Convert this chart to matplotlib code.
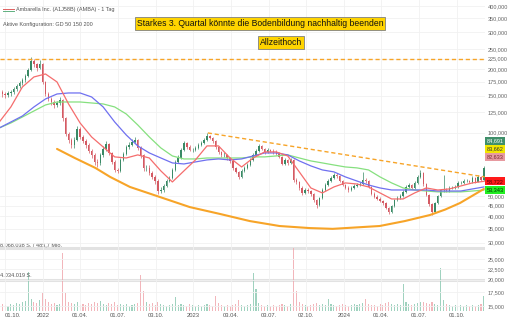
import matplotlib
matplotlib.use("Agg")
import matplotlib.pyplot as plt
import matplotlib.dates as mdates
from matplotlib.lines import Line2D
from matplotlib.ticker import NullLocator
import numpy as np
import pandas as pd

plt.rcParams['font.family'] = ['Liberation Sans', 'DejaVu Sans']

# ---------------- data (weekly candles) ----------------
start_date = '2021-09-17'
first_open = 158.0
close = [156.1, 152.7, 151.1, 154.4, 156.1, 161.4, 166.7, 172.2, 178.0, 186.0,
         198.6, 219.2, 212.2, 203.0, 212.1, 174.2, 152.7, 144.6, 139.9, 135.4,
         138.4, 143.0, 117.4, 98.6, 92.3, 87.4, 92.3, 104.1, 95.4, 91.3,
         87.4, 81.9, 78.4, 72.6, 71.8, 78.4, 83.7, 88.4, 80.1, 72.6,
         66.5, 65.8, 74.2, 79.3, 85.5, 87.4, 90.3, 92.3, 84.6, 78.4,
         68.0, 68.0, 64.4, 61.6, 58.9, 52.8, 53.4, 55.8, 58.9, 60.9,
         66.5, 72.6, 75.8, 82.8, 89.3, 85.5, 82.8, 82.8, 84.6, 87.4,
         89.3, 92.3, 96.5, 94.4, 91.3, 85.5, 81.0, 78.4, 78.4, 75.8,
         73.4, 68.0, 65.1, 61.6, 65.8, 68.0, 70.2, 74.2, 78.4, 81.9,
         86.5, 83.7, 81.0, 82.8, 81.9, 81.0, 79.3, 76.7, 71.0, 74.2,
         71.8, 74.2, 59.6, 58.3, 54.6, 51.7, 53.4, 52.8, 51.1, 47.9,
         45.3, 48.9, 53.4, 56.4, 58.9, 60.9, 63.0, 62.3, 58.9, 56.4,
         54.6, 53.4, 54.6, 55.8, 56.4, 57.0, 59.6, 58.9, 55.2, 51.1,
         49.5, 48.4, 47.4, 46.3, 43.9, 42.0, 44.8, 47.9, 48.9, 50.0,
         52.3, 55.2, 56.4, 54.6, 57.7, 61.6, 64.4, 57.0, 50.6, 45.8,
         42.0, 46.3, 50.0, 53.4, 53.4, 52.8, 54.6, 54.6, 55.2, 57.7,
         57.7, 58.9, 58.9, 58.3, 60.9, 58.3, 61.6, 59.6, 68.0]
high = [162, 159, 156, 158, 160, 165, 170, 176, 182, 190,
        203, 229, 224, 215, 222, 214, 176, 156, 148, 143,
        142, 147, 145, 119, 101, 94, 95, 107, 106, 97,
        93, 89, 84, 80, 75, 80, 86, 91, 89, 81,
        74, 68, 76, 81, 87, 90, 93, 95, 93, 86,
        79, 70, 70, 66, 63, 60, 55, 57, 60, 62.5,
        68, 74, 78, 85, 91, 90.5, 87, 85, 86.5, 89,
        91, 94, 99.5, 98, 95.5, 92, 86.5, 82, 80.5, 79.5,
        77, 74, 69, 66, 67, 69.5, 72, 76, 80, 83.5,
        88, 87.5, 85, 84.5, 84, 83.5, 82.5, 80.5, 77.5, 75.5,
        75, 76, 75, 61, 59, 55.5, 54.5, 54.5, 53.5, 51.5,
        48.5, 49.5, 54.5, 57.5, 60, 62, 64.5, 64, 62.8, 59.5,
        57, 55.5, 55.8, 56.8, 57.5, 58.3, 65, 61, 59.5, 55.8,
        52, 50.3, 49.2, 48, 46.8, 44.5, 45.5, 48.6, 49.8, 51,
        53.2, 56.2, 57.5, 57, 58.8, 62.8, 66.5, 65, 57.5, 51,
        46.3, 47, 50.8, 54.2, 63, 54.5, 55.5, 55.8, 56.3, 58.6,
        59, 60, 60.2, 59.8, 62, 61.5, 62.8, 62.5, 69.5]
low = [150, 148, 146, 147, 150, 153, 158, 163, 169, 175,
       183, 196, 205, 197, 200, 170, 149, 141, 135, 131,
       132, 135, 114, 96, 89, 85, 85, 91, 93, 89,
       85, 80, 76, 70, 69, 70, 77, 82, 78, 71,
       65, 64, 65, 73, 78, 84, 86, 89, 83, 76,
       66, 66, 63, 60, 57, 51, 51.5, 52, 55, 58,
       60, 65.5, 71.5, 75, 82, 84, 81.5, 81, 81.5, 83.5,
       86, 88, 91, 93, 89.5, 84, 79.5, 77, 76.5, 74.5,
       72, 66.5, 64, 60.5, 61, 65, 67, 69.5, 73.5, 77.5,
       81, 82.5, 79.5, 80, 80.5, 79.5, 78, 75.5, 70, 70,
       70.5, 71, 58.5, 57, 53.5, 50.5, 51, 51.8, 50, 47,
       43.9, 45, 48.5, 52.8, 55.8, 58.3, 60.3, 61, 58, 55.5,
       53.8, 52.5, 52.8, 54, 55, 55.5, 56.5, 57.8, 54.5, 50.5,
       48.8, 47.6, 46.6, 45.5, 43.2, 41.2, 41.6, 44.2, 47.2, 48.2,
       49.5, 51.8, 54.5, 53.8, 54, 57, 61, 56, 49.8, 45,
       40.6, 41.5, 45.8, 49.5, 52.5, 52, 52.3, 53.8, 54, 54.8,
       56.8, 57.2, 58, 57.5, 57.8, 57.6, 58, 58.8, 59]
volume_mio = [1.6, 0.9, 0.8, 0.7, 0.9, 0.8, 1.0, 0.9, 1.1, 1.3,
              5.0, 1.6, 1.2, 1.0, 1.4, 2.3, 1.5, 1.1, 0.9, 1.0,
              0.8, 0.9, 7.4, 2.3, 1.2, 1.0, 0.9, 1.1, 0.8, 0.9,
              0.8, 1.0, 0.9, 1.1, 1.0, 1.3, 0.9, 0.8, 1.0, 0.9,
              1.2, 0.8, 0.9, 0.8, 0.9, 0.7, 0.8, 0.9, 1.0, 4.6,
              2.5, 1.2, 0.9, 1.0, 0.8, 1.1, 0.9, 0.8, 0.7, 0.8,
              0.9, 1.8, 0.8, 0.9, 0.8, 0.7, 0.9, 0.8, 0.7, 0.8,
              0.7, 0.8, 0.9, 0.8, 0.7, 1.9, 1.0, 0.8, 0.7, 0.8,
              0.7, 0.8, 0.9, 1.4, 0.8, 0.7, 0.8, 0.9, 4.9, 2.8,
              1.0, 0.8, 0.7, 0.8, 0.7, 0.8, 0.7, 0.8, 0.9, 0.8,
              0.7, 0.9, 8.068, 2.5, 1.2, 0.9, 0.8, 0.7, 0.8, 0.9,
              1.0, 0.8, 0.9, 0.8, 1.5, 0.9, 0.8, 0.7, 0.8, 0.9,
              0.8, 0.7, 0.8, 0.9, 0.8, 0.9, 1.0, 1.5, 0.9, 0.8,
              0.8, 0.7, 0.9, 0.8, 1.0, 1.1, 0.9, 0.8, 0.9, 0.8,
              3.5, 1.2, 0.9, 0.8, 0.9, 1.0, 1.1, 1.2, 1.0, 0.9,
              1.1, 0.9, 0.8, 5.5, 1.4, 0.9, 0.8, 0.7, 0.8, 0.7,
              0.8, 0.7, 0.8, 0.7, 0.8, 0.7, 0.8, 0.9, 1.9]

# moving averages, read every 4th week
gd50 = [112.4, 132.5, 164.9, 184.0, 190.1, 174.2, 136.9, 111.2, 95.4, 85.5,
        76.7, 75.8, 78.4, 75.8, 65.8, 58.3, 65.8, 74.2, 86.5, 86.5,
        75.8, 68.7, 75.8, 81.0, 81.0, 77.5, 65.1, 54.6, 51.7, 55.2,
        57.7, 57.0, 55.2, 51.7, 48.4, 48.4, 51.7, 54.6, 53.4, 54.0,
        55.8, 57.7, 58.72]
gd150 = [105.3, 112.4, 120.0, 132.5, 144.6, 152.7, 154.4, 154.4, 147.8, 132.5,
         112.4, 97.5, 86.5, 80.1, 75.8, 71.8, 71.0, 72.6, 74.2, 75.0,
         74.2, 75.0, 77.5, 80.1, 80.1, 78.4, 73.4, 69.5, 66.5, 65.1,
         61.6, 58.9, 56.4, 54.6, 53.4, 53.4, 53.4, 53.4, 52.8, 52.8,
         52.8, 54.0, 55.2]
gd200 = [105.3, 111.2, 118.7, 126.8, 135.4, 139.9, 139.9, 139.9, 138.4, 136.9,
         132.5, 122.7, 108.8, 95.4, 84.6, 77.5, 75.0, 75.0, 75.8, 75.8,
         75.8, 75.8, 76.7, 76.7, 77.5, 78.4, 75.8, 73.4, 71.8, 70.2,
         68.7, 68.0, 66.5, 61.6, 57.7, 54.6, 53.4, 52.8, 52.3, 52.3,
         52.3, 52.8, 53.343]

# drawn lines
ath_value = 225.0
trend_dates = ['2023-02-05', '2024-12-08']
trend_values = [99.7, 61.6]
bowl_dates = ['2022-02-04', '2022-03-19', '2022-05-08', '2022-06-13', '2022-07-31',
              '2022-10-11', '2022-12-23', '2023-03-06', '2023-05-18', '2023-07-29',
              '2023-10-10', '2023-12-05', '2024-03-28', '2024-05-28', '2024-07-28',
              '2024-09-03', '2024-10-09', '2024-12-06']
bowl_values = [83.7, 75.8, 68.0, 61.6, 55.2, 49.5, 44.3, 41.1, 38.0, 36.0,
               35.2, 34.9, 36.0, 38.0, 40.6, 43.1, 46.3, 54.0]

ytick_values = [400, 350, 300, 250, 225, 200, 175, 150, 125, 100,
                50, 45, 40, 35, 30, 25, 22.5, 20, 17.5, 15]
xtick_dates = ['2021-10-01', '2022-01-01', '2022-04-01', '2022-07-01', '2022-10-03',
               '2023-01-01', '2023-04-03', '2023-07-03', '2023-10-02', '2024-01-01',
               '2024-04-01', '2024-07-01', '2024-10-01']
xtick_labels = ['01.10.', '2022', '01.04.', '01.07.', '03.10.', '2023', '03.04.',
                '03.07.', '02.10.', '2024', '01.04.', '01.07.', '01.10.']
vol_ref = 8.068038
title_text = 'Ambarella Inc. (A1J58B) (AMBA) - 1 Tag'
config_text = 'Aktive Konfiguration: GD 50 150 200'
note1 = 'Starkes 3. Quartal könnte die Bodenbildung nachhaltig beenden'
note2 = 'Allzeithoch'
stack_boxes = [('84,691', '#3f8f6a', 'white'), ('83,662', '#f2e600', '#333333'),
               ('82,633', '#e79aa0', '#7a2a30')]

# ---------------- figure ----------------
W, H = 510, 320
fig = plt.figure(figsize=(W / 100, H / 100), dpi=100)
fig.patch.set_facecolor('white')
plot_bottom_px = 311
plot_right_px = 485
ax = fig.add_axes([0, 1 - plot_bottom_px / H, plot_right_px / W, plot_bottom_px / H])

dates = pd.date_range(start=start_date, periods=len(close), freq='7D')
xd = mdates.date2num(dates)
opens = [first_open] + close[:-1]

ref = mdates.date2num(pd.Timestamp('2022-01-01'))
px_per_day = 150.5 / 365.25
x_left = ref - 43 / px_per_day
x_right = ref + (plot_right_px - 43) / px_per_day

ax.set_yscale('log')
ymin = 15 * np.exp(-(plot_bottom_px - 306) / 91.4)
ymax = 400 * np.exp(6 / 91.4)
ax.set_ylim(ymin, ymax)
ax.set_xlim(x_left, x_right)

# grid
for v in ytick_values:
    ax.axhline(v, color='#f1f1f1', lw=0.6, zorder=0)
for d in xtick_dates:
    ax.axvline(mdates.date2num(pd.Timestamp(d)), color='#f1f1f1', lw=0.6, zorder=0)

# volume (twin axis)
ax2 = ax.twinx()
ax2.set_ylim(0, vol_ref * plot_bottom_px / 63)
ax2.set_xlim(x_left, x_right)
up = np.array(close) >= np.array(opens)
vcol = np.where(up, '#8fcbb4', '#f0aab0')
ax2.bar(xd, volume_mio, width=2.6, color=vcol, alpha=0.85, zorder=1, linewidth=0)
for v in (vol_ref, vol_ref / 2):
    ax2.axhline(v, color='#e2e2e2', lw=2.2, zorder=0.5)
ax2.text(0.0, vol_ref + 0.15, '8.068.038 S. / 485,7 Mio.', fontsize=4, color='#555555',
         transform=ax2.get_yaxis_transform(), ha='left', va='bottom')
ax2.text(0.0, vol_ref / 2 + 0.15, '4.034.019 S.', fontsize=4, color='#555555',
         transform=ax2.get_yaxis_transform(), ha='left', va='bottom')
ax2.set_yticks([])
for s in ax2.spines.values():
    s.set_visible(False)
ax2.patch.set_visible(False)

# put price axes above volume
ax.set_zorder(ax2.get_zorder() + 1)
ax.patch.set_visible(False)

# candles
ccol = np.where(up, '#3a8a66', '#d45a63')
lo_body = np.minimum(opens, close)
hi_body = np.maximum(opens, close)
ax.vlines(xd, low, high, colors=ccol, lw=0.5, zorder=3)
ax.bar(xd, hi_body - lo_body, bottom=lo_body, width=3.4, color=ccol, linewidth=0, zorder=3)

# moving averages
ma_dates = xd[::4]
ax.plot(ma_dates, gd200, color='#86e07f', lw=0.9, zorder=4)
ax.plot(ma_dates, gd150, color='#6f70f0', lw=0.9, zorder=4)
ax.plot(ma_dates, gd50, color='#f56d6d', lw=0.9, zorder=4)

# orange lines
orange = '#f7a428'
ax.axhline(ath_value, color=orange, lw=1.0, ls=(0, (3, 2)), zorder=5)
ax.plot(mdates.date2num(pd.to_datetime(trend_dates)), trend_values, color=orange,
        lw=1.0, ls=(0, (3, 2)), zorder=5)
ax.plot(mdates.date2num(pd.to_datetime(bowl_dates)), bowl_values, color=orange,
        lw=1.5, zorder=5, solid_capstyle='round')

# axes styling
for s in ax.spines.values():
    s.set_visible(False)
ax.yaxis.tick_right()
ax.yaxis.set_minor_locator(NullLocator())
ax.set_yticks(ytick_values)
ax.set_yticklabels([f"{v:.3f}".replace('.', ',') for v in ytick_values])
ax.tick_params(axis='y', length=0, pad=2, labelsize=4, colors='#666666')
ax.set_xticks(mdates.date2num(pd.to_datetime(xtick_dates)))
ax.set_xticklabels(xtick_labels)
ax.tick_params(axis='x', length=0, pad=1.5, labelsize=4.2, colors='#555555')
first_lbl = ax.get_xticklabels()[0]
first_lbl.set_horizontalalignment('left')
first_lbl.set_x(mdates.date2num(pd.Timestamp('2021-09-19')))

# right side value boxes
def px_to_axes_y(py):
    return 1 - py / plot_bottom_px

for (txt, bg, fg), py in zip(stack_boxes, [141, 149, 157]):
    ax.text(1.003, px_to_axes_y(py), txt, transform=ax.transAxes, fontsize=4,
            color=fg, ha='left', va='center',
            bbox=dict(boxstyle='square,pad=0.25', fc=bg, ec='none'))
ax.text(1.003, gd50[-1], '58,722', transform=ax.get_yaxis_transform(), fontsize=4,
        color='#550000', ha='left', va='center', zorder=10,
        bbox=dict(boxstyle='square,pad=0.25', fc='#ff1a1a', ec='none'))
ax.text(1.003, gd200[-1], '53,343', transform=ax.get_yaxis_transform(), fontsize=4,
        color='#003300', ha='left', va='center', zorder=10,
        bbox=dict(boxstyle='square,pad=0.25', fc='#22ee22', ec='none'))

# header texts
fig.add_artist(Line2D([3 / W, 14 / W], [1 - 9 / H, 1 - 9 / H], color='#e06060', lw=0.7))
fig.add_artist(Line2D([3 / W, 14 / W], [1 - 11 / H, 1 - 11 / H], color='#60b080', lw=0.7))
fig.text(16 / W, 1 - 10 / H, title_text, fontsize=4, color='#555555', ha='left', va='center')
fig.text(3 / W, 1 - 24.5 / H, config_text, fontsize=4, color='#555555', ha='left', va='center')

fig.text(260 / W, 1 - 23.5 / H, note1, fontsize=6.2, color='#111111', ha='center', va='center',
         bbox=dict(boxstyle='square,pad=0.2', fc='#ffd400', ec='#808080', lw=0.6))
fig.text(281 / W, 1 - 42.5 / H, note2, fontsize=6.2, color='#111111', ha='center', va='center',
         bbox=dict(boxstyle='square,pad=0.2', fc='#ffd400', ec='#808080', lw=0.6))

fig.savefig('out.png', dpi=100, facecolor='white')
